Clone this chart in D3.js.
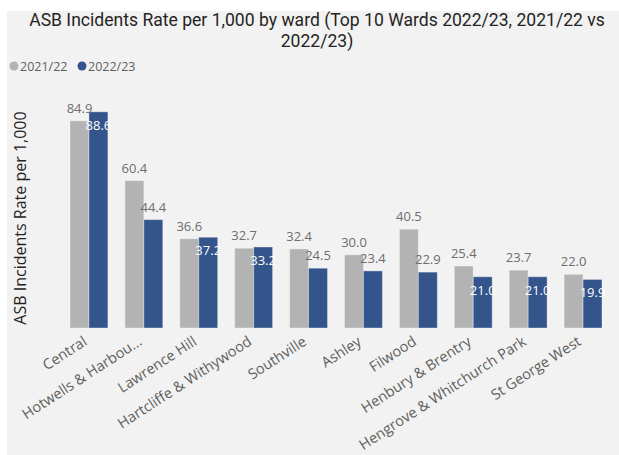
<!DOCTYPE html>
<html>
<head>
<meta charset="utf-8">
<script src="https://cdn.jsdelivr.net/npm/d3@7"></script>
<style>
  html, body { margin: 0; padding: 0; background: #ffffff; }
  svg { display: block; }
  text { font-family: "Segoe UI", "Open Sans", "Noto Sans", sans-serif; }
  text.title { font-family: Roboto, "Liberation Sans", sans-serif; }
</style>
</head>
<body>
<svg id="chart" width="619" height="455"></svg>
<script>
// Wards ranked by 2022/23 rate
const wards = [
  "Central", "Hotwells & Harbou...", "Lawrence Hill", "Hartcliffe & Withywood",
  "Southville", "Ashley", "Filwood", "Henbury & Brentry",
  "Hengrove & Whitchurch Park", "St George West"
];
const seriesNames = ["2021/22", "2022/23"];
const rate2021 = [84.9, 60.4, 36.6, 32.7, 32.4, 30.0, 40.5, 25.4, 23.7, 22.0];
const rate2022 = [88.6, 44.4, 37.2, 33.2, 24.5, 23.4, 22.9, 21.0, 21.0, 19.9];
const seriesColors = ["#b3b3b3", "#34558b"];

const titleLines = [
  "ASB Incidents Rate per 1,000 by ward (Top 10 Wards 2022/23, 2021/22 vs",
  "2022/23)"
];
const yTitle = "ASB Incidents Rate per 1,000";

const svg = d3.select("#chart");

// panel background
svg.append("rect")
  .attr("x", 7).attr("y", 11)
  .attr("width", 612).attr("height", 444)
  .attr("fill", "#f2f2f2");

// title, two centred lines; size fitted so the first line spans the header width
const titleText = svg.append("g").selectAll("text")
  .data(titleLines)
  .join("text")
  .attr("class", "title")
  .attr("x", 317)
  .attr("y", (d, i) => 26 + i * 21)
  .attr("text-anchor", "middle")
  .attr("font-size", 17)
  .attr("fill", "#252423")
  .text(d => d);
const firstLen = titleText.node().getComputedTextLength();
const titleSize = Math.min(18, 17 * 576 / firstLen);
titleText.attr("font-size", titleSize);

// legend
const legend = svg.append("g").attr("transform", "translate(0,66)");
const legendX = [14, 82];
seriesNames.forEach((name, i) => {
  legend.append("circle")
    .attr("cx", legendX[i]).attr("cy", 0).attr("r", 4.5)
    .attr("fill", seriesColors[i]);
  legend.append("text")
    .attr("x", legendX[i] + 6).attr("y", 4.5)
    .attr("font-size", 12.5)
    .attr("fill", "#605e5c")
    .text(name);
});

// scales
const y = d3.scaleLinear().domain([0, 90]).range([328, 108.4]);
const x = d3.scaleBand().domain(wards).range([61.5, 610.5])
  .paddingInner(0.31).paddingOuter(0.155);
const xs = d3.scaleBand().domain(seriesNames).range([0, x.bandwidth()]);

// y axis title
svg.append("text")
  .attr("transform", "translate(26,218) rotate(-90)")
  .attr("text-anchor", "middle")
  .attr("font-size", 16)
  .attr("fill", "#252423")
  .text(yTitle);

// bars
const rows = wards.map((w, i) => ({ ward: w, values: [rate2021[i], rate2022[i]] }));
const groups = svg.append("g").selectAll("g")
  .data(rows)
  .join("g")
  .attr("transform", d => `translate(${x(d.ward)},0)`);

groups.selectAll("rect")
  .data(d => d.values.map((v, k) => ({ key: seriesNames[k], v, k })))
  .join("rect")
  .attr("x", d => xs(d.key))
  .attr("y", d => y(d.v))
  .attr("width", xs.bandwidth())
  .attr("height", d => y(0) - y(d.v))
  .attr("fill", d => seriesColors[d.k])
  .attr("stroke", "rgba(255,255,255,0.35)")
  .attr("stroke-width", 1);

// data labels: 2021/22 above; 2022/23 inside the top when it would collide with the 2021/22 label
groups.each(function (d) {
  const g = d3.select(this);
  const [a, b] = d.values;
  g.append("text")
    .attr("x", xs(seriesNames[0]) + xs.bandwidth() / 2)
    .attr("y", y(a) - 8)
    .attr("text-anchor", "middle")
    .attr("font-size", 13)
    .attr("fill", "#6e6e6e")
    .text(a.toFixed(1));
  const inside = a - b < 5.5;
  g.append("text")
    .attr("x", xs(seriesNames[1]) + xs.bandwidth() / 2)
    .attr("y", inside ? y(b) + 18 : y(b) - 8)
    .attr("text-anchor", "middle")
    .attr("font-size", 13)
    .attr("fill", inside ? "#ffffff" : "#6e6e6e")
    .text(b.toFixed(1));
});

// category labels
svg.append("g").selectAll("text")
  .data(wards)
  .join("text")
  .attr("transform", d => `translate(${x(d) + x.bandwidth() / 2 - 1},344) rotate(-33)`)
  .attr("text-anchor", "end")
  .attr("font-size", 14.5)
  .attr("fill", "#605e5c")
  .text(d => d);
</script>
</body>
</html>
